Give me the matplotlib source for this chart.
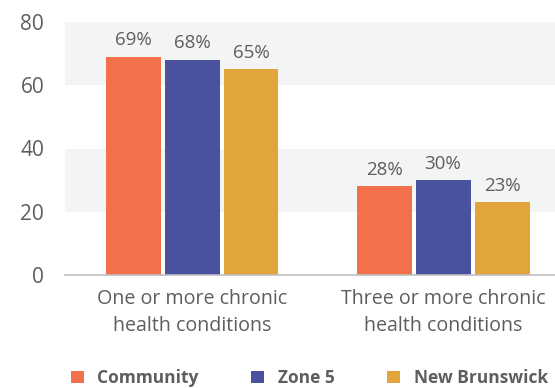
import matplotlib
matplotlib.use("Agg")
import matplotlib.pyplot as plt
import numpy as np

categories = ["One or more chronic\nhealth conditions", "Three or more chronic\nhealth conditions"]
series_names = ["Community", "Zone 5", "New Brunswick"]
community = [69, 28]
zone5 = [68, 30]
new_brunswick = [65, 23]
y_ticks = [0, 20, 40, 60, 80]

colors = ["#f2714b", "#4a52a0", "#e2a53c"]
text_color = "#5e5e5e"

plt.rcParams['font.family'] = ['Open Sans', 'DejaVu Sans']

fig = plt.figure(figsize=(5.55, 3.88), dpi=100)
ax = fig.add_axes([65/555, 1-275/388, 490/555, 253/388])

# background bands
ax.axhspan(20, 40, color="#f3f5f5", zorder=0, lw=0)
ax.axhspan(60, 80, color="#f3f5f5", zorder=0, lw=0)

x = np.arange(len(categories))
step = 0.235
width = 0.219
handles = []
for i, (vals, name, c) in enumerate(zip([community, zone5, new_brunswick], series_names, colors)):
    pos = x + (i - 1) * step
    b = ax.bar(pos, vals, width=width, color=c, label=name, zorder=2)
    handles.append(b)
    for p, v in zip(pos, vals):
        ax.text(p, v + 2.4, f"{v}%", ha="center", va="bottom", fontsize=13.5, color=text_color)

ax.set_xlim(-0.506, 1.446)
ax.set_ylim(0, 80)
ax.set_yticks(y_ticks)
ax.set_yticklabels([str(t) for t in y_ticks], fontsize=15, color=text_color)
ax.set_xticks(x)
ax.set_xticklabels(categories, fontsize=14.1, color=text_color, linespacing=1.45)
ax.tick_params(axis="both", length=0)
ax.tick_params(axis="y", pad=15)
ax.tick_params(axis="x", pad=10)
for s in ["top", "right", "left"]:
    ax.spines[s].set_visible(False)
ax.spines["bottom"].set_color("#bfbfbf")
ax.spines["bottom"].set_linewidth(1.2)
ax.spines["bottom"].set_zorder(3)

leg = fig.legend(handles=handles, labels=series_names, loc="center", bbox_to_anchor=(0.557, 1-378/388),
                 ncol=3, frameon=False, handlelength=0.75, handleheight=0.75, handletextpad=0.8,
                 columnspacing=3.0, prop={"weight": "bold", "size": 12.5})
for t in leg.get_texts():
    t.set_color(text_color)

fig.savefig("out.png", dpi=100)
